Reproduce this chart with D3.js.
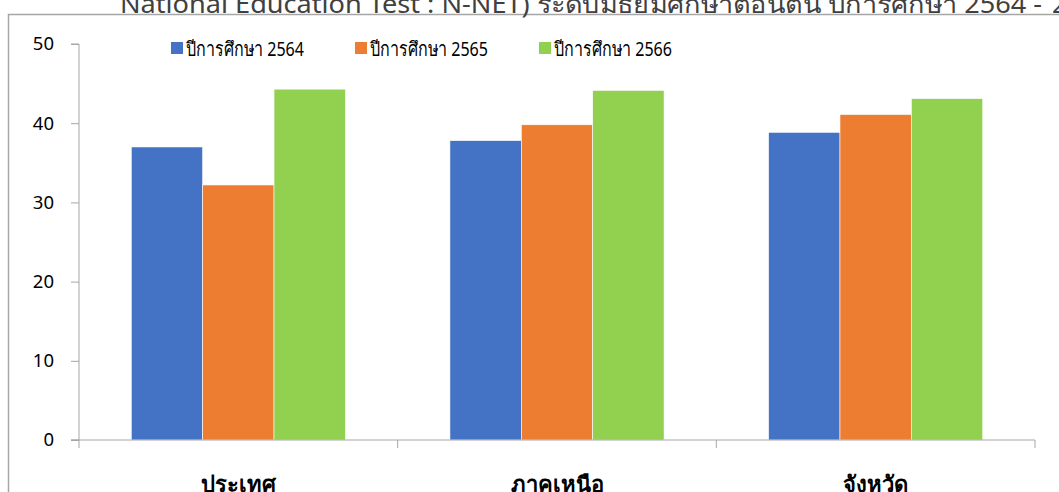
<!DOCTYPE html>
<html><head><meta charset="utf-8">
<script src="https://cdn.jsdelivr.net/npm/d3@7"></script>
<style>
html,body{margin:0;padding:0;background:#fff;overflow:hidden;}
svg{display:block;font-family:"Noto Sans","Open Sans",sans-serif;}
</style></head>
<body>
<svg id="chart" width="1059" height="492"></svg>
<script>
const titleMain = "National Education Test : N-NET) ระดับมัธยมศึกษาตอนต้น ปีการศึกษา 2564 - ";
const titleTail = "2566";
const categories = ["ประเทศ", "ภาคเหนือ", "จังหวัด"];
const seriesNames = ["ปีการศึกษา 2564", "ปีการศึกษา 2565", "ปีการศึกษา 2566"];
const values2564 = [37.0, 37.8, 38.85];
const values2565 = [32.2, 39.8, 41.1];
const values2566 = [44.3, 44.15, 43.1];
const yTicks = [0, 10, 20, 30, 40, 50];
const colors = ["#4472c4", "#ed7d31", "#92d050"];

const seriesValues = [values2564, values2565, values2566];
const svg = d3.select("#chart");
const axisColor = "#a6a6a6";

// frame
svg.append("rect").attr("x", 8.5).attr("y", 14.5).attr("width", 1100).attr("height", 600)
  .attr("fill", "none").attr("stroke", axisColor).attr("stroke-width", 1.5);

// title (clipped at the top)
svg.append("text").attr("x", 120).attr("y", 12.5)
  .attr("textLength", 922).attr("lengthAdjust", "spacingAndGlyphs")
  .attr("font-size", 25).attr("fill", "#404040").text(titleMain);
svg.append("text").attr("x", 1052).attr("y", 12.5).attr("font-size", 25)
  .attr("fill", "#404040").text(titleTail);

const x0 = d3.scaleBand().domain(categories).range([79, 1035]).paddingInner(0).paddingOuter(0);
const groupW = x0.bandwidth() * 0.672;
const x1 = d3.scaleBand().domain(seriesNames).range([0, groupW]).padding(0);
const y = d3.scaleLinear().domain([0, 50]).range([440, 44]);

// bars
categories.forEach((c, ci) => {
  const gx = x0(c) + (x0.bandwidth() - groupW) / 2;
  svg.append("g").selectAll("rect").data(seriesNames).join("rect")
    .attr("x", s => gx + x1(s))
    .attr("width", x1.bandwidth())
    .attr("y", (s, si) => y(seriesValues[si][ci]))
    .attr("height", (s, si) => y(0) - y(seriesValues[si][ci]))
    .attr("fill", (s, si) => colors[si])
    .attr("stroke", "#fff").attr("stroke-width", 0.6);
});

// y axis
const yAxis = svg.append("g").attr("transform", "translate(79,0)")
  .call(d3.axisLeft(y).tickValues(yTicks).tickSize(8).tickPadding(17));
yAxis.select(".domain").attr("stroke", axisColor).attr("d", "M-8,44H0V440H-8");
yAxis.selectAll(".tick line").attr("stroke", axisColor);
yAxis.selectAll(".tick text").attr("font-size", 18.5).attr("fill", "#000").attr("font-family", "Noto Sans, sans-serif");

// x axis
const xAxis = svg.append("g").attr("transform", "translate(0,440)")
  .call(d3.axisBottom(x0).tickSize(0).tickPadding(36));
xAxis.select(".domain").attr("stroke", axisColor).attr("d", "M71,0H1035");
xAxis.selectAll(".tick text").attr("font-size", 22).attr("font-weight", "bold").attr("fill", "#000")
  .attr("font-family", "Noto Sans, sans-serif");
const boundaries = categories.map(c => x0(c)).concat([x0.range()[1]]);
svg.append("g").selectAll("line").data(boundaries).join("line")
  .attr("x1", d => d).attr("x2", d => d).attr("y1", 440).attr("y2", 448)
  .attr("stroke", axisColor);

// legend
const legendX = [171, 355, 539];
const lg = svg.append("g");
seriesNames.forEach((s, i) => {
  lg.append("rect").attr("x", legendX[i]).attr("y", 42).attr("width", 12).attr("height", 12).attr("fill", colors[i]);
  lg.append("text").attr("x", legendX[i] + 15).attr("y", 56).attr("font-size", 20)
    .attr("textLength", 118).attr("lengthAdjust", "spacingAndGlyphs")
    .attr("fill", "#000").text(s);
});
</script>
</body></html>
